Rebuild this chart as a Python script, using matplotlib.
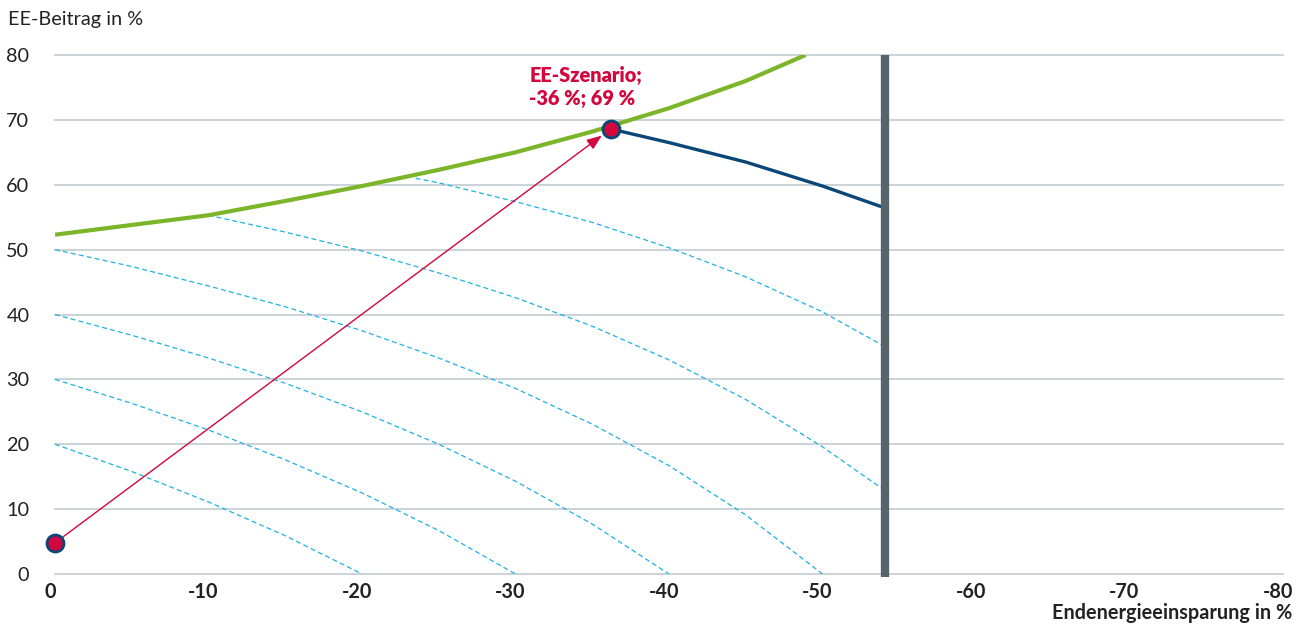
import matplotlib
matplotlib.use("Agg")
import matplotlib.pyplot as plt
import matplotlib.transforms as mtransforms

plt.rcParams['font.family'] = ['Lato', 'DejaVu Sans']

# Data
green_x = [0, -5, -10, -15, -20, -25, -30, -35, -40, -45, -48.9]
green_y = [52.3, 53.8, 55.3, 57.5, 59.8, 62.3, 65.0, 68.2, 71.8, 76.0, 80.0]

navy_x = [-36.2, -40, -45, -50, -54.1]
navy_y = [68.6, 66.5, 63.5, 59.8, 56.4]

dash_curves = [
    ([0, -5, -10, -15, -20], [20, 15.8, 11.1, 5.9, 0]),
    ([0, -5, -10, -15, -20, -25, -30], [30, 26.3, 22.2, 17.6, 12.5, 6.7, 0]),
    ([0, -5, -10, -15, -20, -25, -30, -35, -40], [40, 36.8, 33.3, 29.4, 25.0, 20.0, 14.3, 7.7, 0]),
    ([0, -5, -10, -15, -20, -25, -30, -35, -40, -45, -50],
     [50, 47.4, 44.4, 41.2, 37.5, 33.3, 28.6, 23.1, 16.7, 9.1, 0]),
    ([-10, -15, -20, -25, -30, -35, -40, -45, -50, -54.1],
     [55.3, 52.7, 49.8, 46.4, 42.6, 38.2, 33.0, 26.9, 19.6, 12.8]),
    ([-23.5, -25, -30, -35, -40, -45, -50, -54.1],
     [61.0, 60.3, 57.4, 54.2, 50.3, 45.8, 40.4, 35.0]),
]

start_pt = (0, 4.8)
scen_pt = (-36.2, 68.6)
limit_x = -54.1

x_ticks = [0, -10, -20, -30, -40, -50, -60, -70, -80]
x_labels = ["0", "-10", "-20", "-30", "-40", "-50", "-60", "-70", "-80"]
y_ticks = [0, 10, 20, 30, 40, 50, 60, 70, 80]

GREEN = "#7cb52a"
NAVY = "#0a4677"
CYAN = "#1cb2e3"
RED = "#d3063d"
BAR = "#56646b"
GRID = "#c7cfd5"
TEXT = "#222222"
FS = 14.3

fig = plt.figure(figsize=(13.02, 6.25), dpi=100)
ax = fig.add_axes([55/1302, 51/625, (1283-55)/1302, (574-55)/625])
ax.set_xlim(0, -80)
ax.set_ylim(0, 80)

for y in y_ticks:
    ax.axhline(y, color=GRID, lw=1.3, zorder=1, clip_on=False)

for xs, ys in dash_curves:
    ax.plot(xs, ys, color=CYAN, lw=0.9, ls=(0, (4, 2.5)), zorder=2)

ax.plot(green_x, green_y, color=GREEN, lw=3.0, zorder=3, solid_capstyle='butt')
ax.plot(navy_x, navy_y, color=NAVY, lw=2.4, zorder=3)

ax.plot([limit_x, limit_x], [-0.5, 80], color=BAR, lw=6, zorder=4,
        solid_capstyle='butt', clip_on=False)

ax.annotate("", xy=scen_pt, xytext=start_pt,
            arrowprops=dict(arrowstyle="-|>,head_length=0.9,head_width=0.35",
                            color=RED, lw=1.0, shrinkA=0, shrinkB=8),
            zorder=5)

ax.scatter([start_pt[0], scen_pt[0]], [start_pt[1], scen_pt[1]], s=150,
           color=RED, edgecolor=NAVY, linewidth=2.0, zorder=6, clip_on=False)

ax.text(-30.9, 75.0, "EE-Szenario;\n-36 %; 69 %", color=RED, fontsize=FS,
        fontweight='heavy', ha='left', va='center', linespacing=1.25, zorder=7)

for s in ax.spines.values():
    s.set_visible(False)

ax.set_xticks(x_ticks)
ax.set_xticklabels(x_labels, fontweight='bold', fontsize=FS, color=TEXT)
ax.set_yticks(y_ticks)
ax.set_yticklabels([str(v) for v in y_ticks], fontsize=FS, color=TEXT)
ax.tick_params(axis='both', length=0)
ax.tick_params(axis='x', pad=6)
ax.tick_params(axis='y', pad=18.5)
shift = mtransforms.ScaledTranslation(-5/100, 0, fig.dpi_scale_trans)
for lbl in ax.get_xticklabels():
    lbl.set_transform(lbl.get_transform() + shift)
for lbl in ax.get_yticklabels():
    lbl.set_horizontalalignment('right')

fig.text(8/1302, 1 - 20/625, "EE-Beitrag in %", fontsize=FS, color=TEXT,
         ha='left', va='center')
fig.text(1292/1302, 1 - 613/625, "Endenergieeinsparung in %", fontsize=FS,
         fontweight='bold', color=TEXT, ha='right', va='center')

fig.savefig("out.png", dpi=100)
